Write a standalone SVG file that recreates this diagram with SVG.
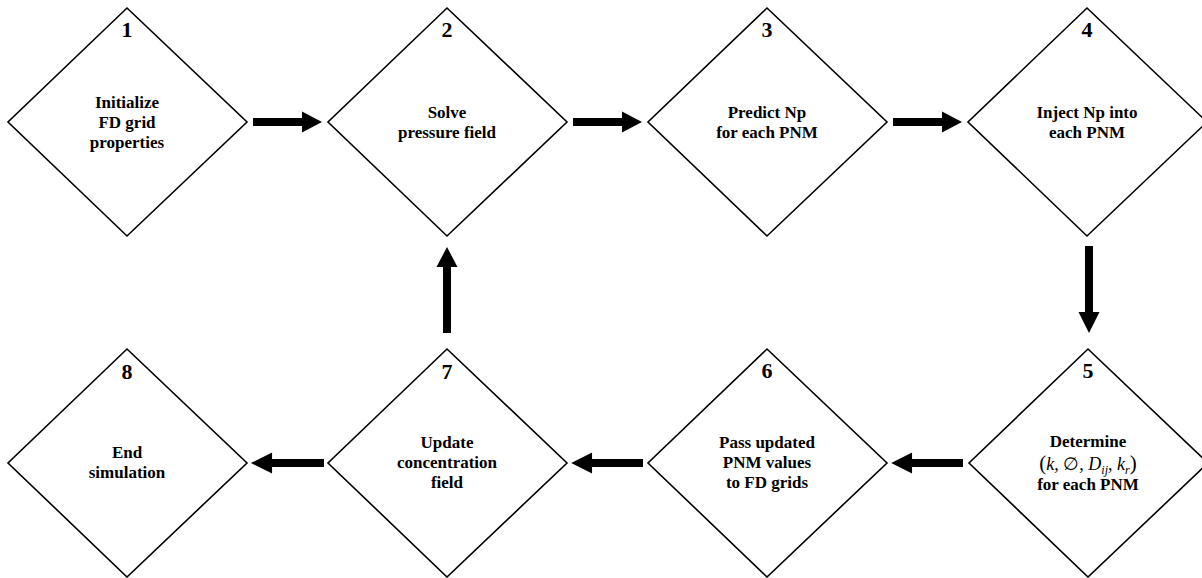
<svg xmlns="http://www.w3.org/2000/svg" width="1202" height="578" viewBox="0 0 1202 578">
<style>
.d{fill:#fff;stroke:#000;stroke-width:1.6}
.t{font-family:"Liberation Serif","Times New Roman",serif;font-weight:bold;font-size:17px;fill:#000;text-anchor:middle}
.n{font-family:"Liberation Serif","Times New Roman",serif;font-weight:bold;font-size:22px;fill:#000;text-anchor:middle}
.m{font-family:"Liberation Serif","DejaVu Serif",serif;font-style:italic;font-size:18px;fill:#000;text-anchor:middle}
.a{fill:#000}
</style>
<defs>
<polygon id="arR" points="0,-4 49,-4 49,-10.5 69,0 49,10.5 49,4 0,4"/>
</defs>
<g id="connectors">
<use href="#arR" class="a" transform="translate(253,122)"/>
<use href="#arR" class="a" transform="translate(573,122)"/>
<use href="#arR" class="a" transform="translate(893,122)"/>
<polygon class="a" points="1085,246 1093,246 1093,312 1099.5,312 1089,333 1078.5,312 1085,312"/>
<use href="#arR" class="a" transform="translate(963,463) rotate(180) scale(1.04,1)"/>
<use href="#arR" class="a" transform="translate(643,463) rotate(180) scale(1.04,1)"/>
<use href="#arR" class="a" transform="translate(324,463) rotate(180) scale(1.06,1)"/>
<polygon class="a" points="443,333 451,333 451,267 457.5,267 447,247 436.5,267 443,267"/>
</g>
<g id="node1">
<polygon class="d" points="127,8 247,122 127,236 8,122"/>
<text class="n" x="127" y="37">1</text>
<text class="t" x="127" y="108">Initialize</text>
<text class="t" x="127" y="128">FD grid</text>
<text class="t" x="127" y="148">properties</text>
</g>
<g id="node2">
<polygon class="d" points="447,8 567,122 447,236 328,122"/>
<text class="n" x="447" y="37">2</text>
<text class="t" x="447" y="118">Solve</text>
<text class="t" x="447" y="138">pressure field</text>
</g>
<g id="node3">
<polygon class="d" points="767,8 887,122 767,236 648,122"/>
<text class="n" x="767" y="37">3</text>
<text class="t" x="767" y="118">Predict Np</text>
<text class="t" x="767" y="138">for each PNM</text>
</g>
<g id="node4">
<polygon class="d" points="1087,8 1207,122 1087,236 968,122"/>
<text class="n" x="1087" y="37">4</text>
<text class="t" x="1087" y="118">Inject Np into</text>
<text class="t" x="1087" y="138">each PNM</text>
</g>
<g id="node5">
<polygon class="d" points="1088,349 1208,463 1088,577 969,463"/>
<text class="n" x="1088" y="378">5</text>
<text class="t" x="1088" y="447">Determine</text>
<text class="m" x="1088" y="470"><tspan font-style="normal" font-size="21">(</tspan>k, <tspan font-style="normal">∅</tspan>, D<tspan dy="4" font-size="12">ij</tspan><tspan dy="-4">, k</tspan><tspan dy="4" font-size="12">r</tspan><tspan dy="-4" font-style="normal" font-size="21">)</tspan></text>
<text class="t" x="1088" y="490">for each PNM</text>
</g>
<g id="node6">
<polygon class="d" points="767,349 887,463 767,577 648,463"/>
<text class="n" x="767" y="378">6</text>
<text class="t" x="767" y="448">Pass updated</text>
<text class="t" x="767" y="468">PNM values</text>
<text class="t" x="767" y="488">to FD grids</text>
</g>
<g id="node7">
<polygon class="d" points="447,349 567,463 447,577 328,463"/>
<text class="n" x="447" y="379" font-weight="normal">7</text>
<text class="t" x="447" y="448">Update</text>
<text class="t" x="447" y="468">concentration</text>
<text class="t" x="447" y="488">field</text>
</g>
<g id="node8">
<polygon class="d" points="127,349 247,463 127,577 8,463"/>
<text class="n" x="127" y="379">8</text>
<text class="t" x="127" y="458">End</text>
<text class="t" x="127" y="478">simulation</text>
</g>
</svg>
